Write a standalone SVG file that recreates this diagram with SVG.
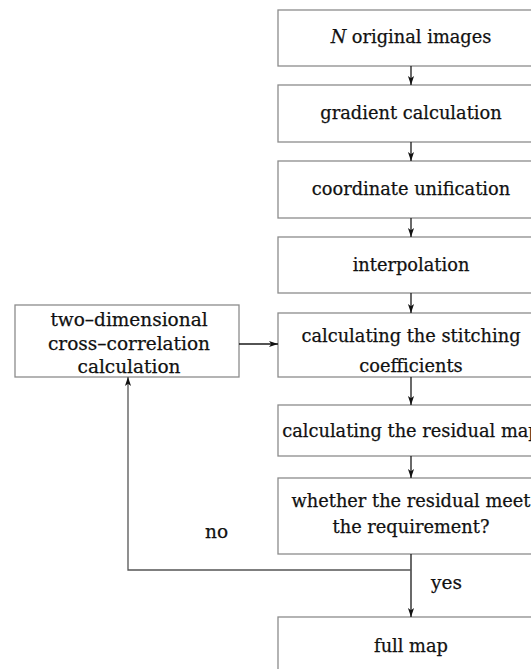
<svg xmlns="http://www.w3.org/2000/svg" width="531" height="669" viewBox="0 0 531 669">
<defs>
<marker id="ah" viewBox="0 0 10 10" refX="10" refY="5" markerWidth="9" markerHeight="9" markerUnits="userSpaceOnUse" orient="auto">
<path d="M0,1.6 L10,5 L0,8.4 L2.5,5 Z" fill="#111"/>
</marker>
</defs>
<style>
.box{fill:#fff;stroke:#8c8c8c;stroke-width:1.3}
.t{font-size:17.8px;fill:#111;stroke:#111;stroke-width:0.25;text-anchor:middle}
.l{font-size:18.5px}
.c{fill:none;stroke:#1a1a1a;stroke-width:1.3}
.g{fill:none;stroke:#555;stroke-width:1.3}
</style>
<rect width="531" height="669" fill="#fff"/>
<g font-family="DejaVu Serif, Liberation Serif, serif">
<g id="n1"><rect class="box" x="278" y="10" width="266" height="56"/><text class="t" x="411" y="43"><tspan font-style="italic">N</tspan> original images</text></g>
<g id="n2"><rect class="box" x="278" y="85" width="266" height="57"/><text class="t" x="411" y="119">gradient calculation</text></g>
<g id="n3"><rect class="box" x="278" y="161" width="266" height="57"/><text class="t" x="411" y="195">coordinate unification</text></g>
<g id="n4"><rect class="box" x="278" y="237" width="266" height="56"/><text class="t" x="411" y="271">interpolation</text></g>
<g id="n5"><rect class="box" x="278" y="313" width="266" height="64"/><text class="t" x="411" y="342">calculating the stitching</text><text class="t" x="411" y="372">coefficients</text></g>
<g id="n6"><rect class="box" x="278" y="405" width="266" height="51"/><text class="t" x="411" y="437">calculating the residual map</text></g>
<g id="n7"><rect class="box" x="278" y="478" width="266" height="76"/><text class="t" x="411" y="507">whether the residual meet</text><text class="t" x="411" y="533">the requirement?</text></g>
<g id="n8"><rect class="box" x="278" y="617" width="266" height="60"/><text class="t" x="411" y="652">full map</text></g>
<g id="n9"><rect class="box" x="15" y="305" width="224" height="72"/><text class="t l" x="129" y="326">two–dimensional</text><text class="t l" x="129" y="350">cross–correlation</text><text class="t l" x="129" y="373">calculation</text></g>
<g id="connectors">
<line class="c" x1="411" y1="66" x2="411" y2="85" marker-end="url(#ah)"/>
<line class="c" x1="411" y1="142" x2="411" y2="161" marker-end="url(#ah)"/>
<line class="c" x1="411" y1="218" x2="411" y2="237" marker-end="url(#ah)"/>
<line class="c" x1="411" y1="293" x2="411" y2="313" marker-end="url(#ah)"/>
<line class="c" x1="411" y1="377" x2="411" y2="405" marker-end="url(#ah)"/>
<line class="c" x1="411" y1="456" x2="411" y2="478" marker-end="url(#ah)"/>
<line class="c" x1="411" y1="554" x2="411" y2="617" marker-end="url(#ah)"/>
<line class="c" x1="239" y1="344" x2="278" y2="344" marker-end="url(#ah)"/>
<polyline class="g" points="411,570 128,570 128,377" marker-end="url(#ah)"/>
<text class="t l" x="216.5" y="538">no</text>
<text class="t l" x="446.5" y="589">yes</text>
</g>
</g>
</svg>
